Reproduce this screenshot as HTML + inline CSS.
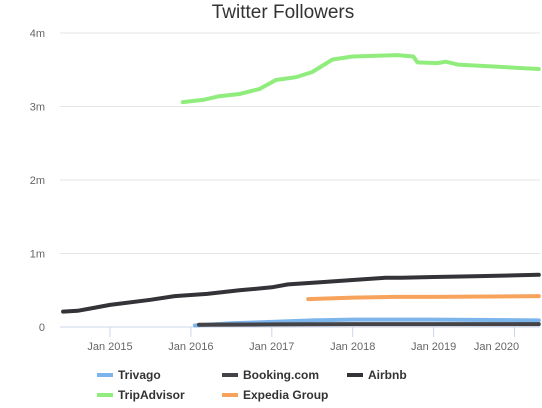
<!DOCTYPE html>
<html><head><meta charset="utf-8"><style>
body{margin:0;background:#fff;width:542px;height:403px;overflow:hidden;font-family:"Liberation Sans",sans-serif}
</style></head><body>
<svg id="chart" width="542" height="403">
<text x="283" y="18" text-anchor="middle" font-size="19" fill="#333">Twitter Followers</text>
<g id="grid"></g><g id="series"></g><g id="legend"></g>
</svg>
<script>
const yTicks=[0,1,2,3,4];
const yTickLabels=["0","1m","2m","3m","4m"];
const xTicks=[2015,2016,2017,2018,2019,2020];
const xTickLabels=["Jan 2015","Jan 2016","Jan 2017","Jan 2018","Jan 2019","Jan 2020"];
const seriesNames=["Trivago","Booking.com","Airbnb","TripAdvisor","Expedia Group"];
const seriesColors=["#7cb5ec","#434348","#333338","#90ed7d","#f7a35c"];
const trivagoT=[2016.05,2016.5,2017.0,2017.5,2018.0,2019.0,2020.3];
const trivagoV=[0.02,0.05,0.07,0.09,0.10,0.10,0.09];
const bookingT=[2016.1,2017.0,2018.0,2019.0,2020.3];
const bookingV=[0.03,0.035,0.04,0.04,0.04];
const airbnbT=[2014.42,2014.6,2014.8,2015.0,2015.5,2015.8,2016.2,2016.6,2017.0,2017.2,2017.6,2018.0,2018.4,2018.6,2019.0,2019.5,2020.3];
const airbnbV=[0.21,0.22,0.26,0.30,0.37,0.42,0.45,0.50,0.54,0.58,0.61,0.64,0.67,0.67,0.68,0.69,0.71];
const tripT=[2015.9,2016.15,2016.35,2016.6,2016.85,2017.05,2017.3,2017.5,2017.75,2018.0,2018.3,2018.55,2018.75,2018.8,2019.05,2019.15,2019.3,2019.8,2020.3];
const tripV=[3.06,3.09,3.14,3.17,3.24,3.36,3.40,3.47,3.64,3.68,3.69,3.70,3.68,3.60,3.59,3.61,3.57,3.54,3.51];
const expediaT=[2017.45,2018.0,2018.5,2019.0,2020.3];
const expediaV=[0.38,0.40,0.41,0.41,0.42];
const NS="http://www.w3.org/2000/svg";
const X=t=>110+(t-2015)*80.9;
const Y=v=>327-v*73.5;
function mk(tag,attrs,parent){const e=document.createElementNS(NS,tag);for(const k in attrs)e.setAttribute(k,attrs[k]);parent.appendChild(e);return e;}
const grid=document.getElementById('grid');
yTicks.forEach((v,i)=>{
 const l=mk('line',{x1:60,x2:540,y1:Y(v),y2:Y(v),stroke:i==0?'#ccd6eb':'#e6e6e6','stroke-width':1},grid);
 
 
 const t=mk('text',{x:45,y:Y(v)+4,'text-anchor':'end','font-size':11,fill:'#666'},grid);
 t.textContent=yTickLabels[i];
 
 
});
xTicks.forEach((v,i)=>{
 const l=mk('line',{x1:X(v),x2:X(v),y1:327,y2:337,stroke:'#ccd6eb'},grid);
 
 
 const cx=i==xTicks.length-1?X(v)-18:X(v);
 const t=mk('text',{x:cx,y:350,'text-anchor':'middle','font-size':11,fill:'#666'},grid);
 t.textContent=xTickLabels[i];
 
 
});
const sg=document.getElementById('series');
const data=[[trivagoT,trivagoV],[bookingT,bookingV],[airbnbT,airbnbV],[tripT,tripV],[expediaT,expediaV]];
const order=[0,1,4,2,3];
order.forEach(i=>{
 const [ts,vs]=data[i];
 const p=mk('path',{d:ts.map((t,j)=>(j?'L':'M')+X(t).toFixed(1)+' '+Y(vs[j]).toFixed(1)).join(' '),fill:'none',stroke:seriesColors[i],'stroke-width':4,'stroke-linejoin':'round','stroke-linecap':'round'},sg);
 
 
});
const lg=document.getElementById('legend');
const lpos=[[97,375],[222,375],[347,375],[97,395],[222,395]];
seriesNames.forEach((n,i)=>{
 const g=mk('g',{},lg);
 
 
 mk('line',{x1:lpos[i][0],x2:lpos[i][0]+16,y1:lpos[i][1],y2:lpos[i][1],stroke:seriesColors[i],'stroke-width':4},g);
 const t=mk('text',{x:lpos[i][0]+21,y:lpos[i][1]+4,'font-size':12,'font-weight':'bold',fill:'#333'},g);
 t.textContent=n;
});
</script>
</body></html>
